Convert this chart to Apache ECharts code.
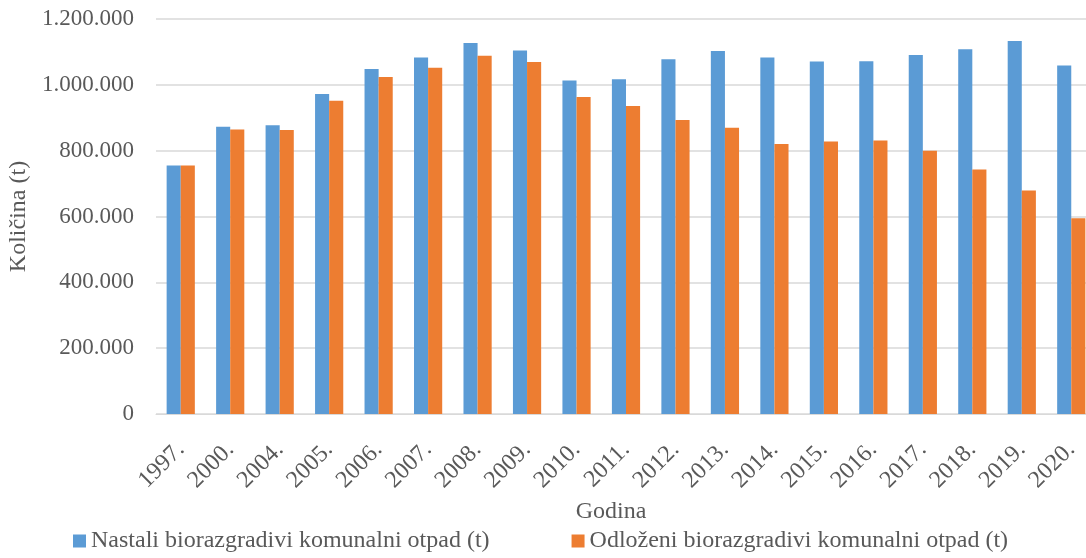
<!DOCTYPE html>
<html>
<head>
<meta charset="utf-8">
<script src="https://cdn.jsdelivr.net/npm/echarts@6/dist/echarts.min.js"></script>
<style>
  html, body { margin: 0; padding: 0; background: #fff; }
  #chart { width: 1086px; height: 558px; }
</style>
</head>
<body>
<div id="chart"></div>
<script>
const years = ['1997.', '2000.', '2004.', '2005.', '2006.', '2007.', '2008.', '2009.', '2010.', '2011.',
  '2012.', '2013.', '2014.', '2015.', '2016.', '2017.', '2018.', '2019.', '2020.']
// nastali (t)
const nastali = [755000, 873000, 877000, 972000, 1048000, 1083000, 1127000, 1104000, 1013000, 1017000,
  1078000, 1103000, 1083000, 1071000, 1072000, 1091000, 1108000, 1133000, 1059000]
// odlozeni (t)
const odlozeni = [755000, 864000, 863000, 952000, 1024000, 1052000, 1088000, 1069000, 963000, 936000,
  893000, 870000, 820000, 828000, 831000, 800000, 743000, 679000, 595000]

const font = 'Liberation Serif'
const textColor = '#595959'

let myChart = echarts.init(document.getElementById('chart'))
myChart.setOption({
  animation: false,
  grid: {
    left: 156,
    top: 19,
    width: 940,
    bottom: 144,
    outerBoundsMode: 'none'
  },
  legend: {
    bottom: 0,
    left: 68,
    icon: 'rect',
    itemWidth: 13,
    itemHeight: 13,
    itemGap: 82,
    textStyle: { fontFamily: font, fontSize: 24, color: textColor }
  },
  xAxis: {
    type: 'category',
    data: years,
    name: 'Godina',
    nameLocation: 'middle',
    nameGap: 82,
    nameTextStyle: { fontFamily: font, fontSize: 24, color: textColor, padding: [0, 30, 0, 0] },
    axisLine: { lineStyle: { color: '#d9d9d9' } },
    axisTick: { show: false },
    axisLabel: {
      rotate: 45,
      margin: 32,
      interval: 0,
      fontFamily: font,
      fontSize: 24,
      color: textColor
    }
  },
  yAxis: {
    type: 'value',
    min: 0,
    max: 1200000,
    interval: 200000,
    name: 'Količina (t)',
    nameLocation: 'middle',
    nameGap: 116,
    nameTextStyle: { fontFamily: font, fontSize: 24, color: textColor },
    splitLine: { lineStyle: { color: '#d9d9d9', width: 1.5 } },
    axisLabel: {
      margin: 22,
      fontFamily: font,
      fontSize: 23,
      color: textColor,
      formatter: v => v.toString().replace(/\B(?=(\d{3})+(?!\d))/g, '.')
    }
  },
  series: [
    {
      name: 'Nastali biorazgradivi komunalni otpad (t)',
      type: 'bar',
      data: nastali,
      barGap: '0%',
      barCategoryGap: '43%',
      itemStyle: { color: '#5b9bd5' }
    },
    {
      name: 'Odloženi biorazgradivi komunalni otpad (t)',
      type: 'bar',
      data: odlozeni,
      itemStyle: { color: '#ed7d31' }
    }
  ]
})
</script>
</body>
</html>
